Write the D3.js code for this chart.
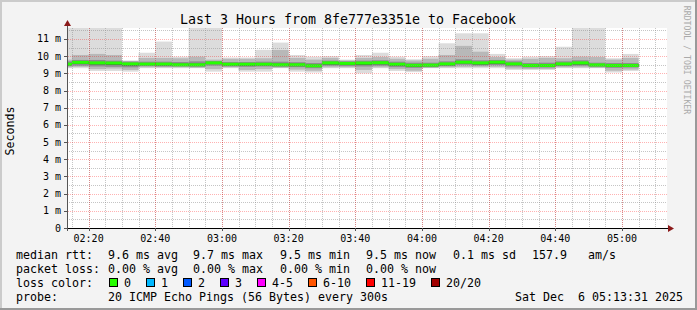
<!DOCTYPE html>
<html>
<head>
<meta charset="utf-8">
<script src="https://cdn.jsdelivr.net/npm/d3@7"></script>
<style>
body { margin: 0; background: #f3f3f3; }
svg { display: block; }
svg text { font-family: 'DejaVu Sans Mono', monospace; white-space: pre; }
</style>
</head>
<body>
<svg width="697" height="310"></svg>
<script>
// one bar per 5 minute step (start time)
const TIMES = ['02:10', '02:15', '02:20', '02:25', '02:30', '02:35', '02:40', '02:45', '02:50', '02:55',
    '03:00', '03:05', '03:10', '03:15', '03:20', '03:25', '03:30', '03:35', '03:40', '03:45',
    '03:50', '03:55', '04:00', '04:05', '04:10', '04:15', '04:20', '04:25', '04:30', '04:35',
    '04:40', '04:45', '04:50', '04:55', '05:00'];

// rtt in ms
const MEDIAN = [9.54, 9.64, 9.61, 9.60, 9.55, 9.54, 9.54, 9.50, 9.50, 9.61, 9.53, 9.53, 9.53, 9.50, 9.50, 9.44, 9.61, 9.58,
    9.60, 9.62, 9.53, 9.47, 9.48, 9.55, 9.65, 9.61, 9.65, 9.55, 9.46, 9.46, 9.55, 9.61, 9.49, 9.46, 9.46];
const MAX = [11.9, 11.9, 11.9, 11.9, 9.75, 10.2, 10.85, 9.97, 11.9, 11.9, 9.92, 9.92, 10.37, 10.79, 10.07, 9.97, 10.0, 9.8,
    10.07, 10.2, 9.97, 9.82, 10.0, 10.75, 11.33, 11.33, 10.13, 9.88, 9.97, 10.0, 10.55, 11.9, 11.9, 9.88, 10.13];
const MIN = [9.3, 9.3, 9.14, 9.14, 9.1, 9.3, 9.3, 9.3, 9.3, 9.1, 9.3, 9.1, 9.1, 9.3, 9.1, 9.05, 9.3, 9.3,
    9.0, 9.3, 9.14, 9.07, 9.3, 9.3, 9.3, 9.3, 9.3, 9.2, 9.2, 9.2, 9.3, 9.3, 9.3, 9.05, 9.14];
const P90 = [9.8, 10.07, 10.13, 10.07, 9.72, 9.9, 9.9, 9.88, 9.97, 9.8, 9.85, 9.85, 9.88, 10.36, 9.9, 9.8, 9.9, 9.75,
    9.9, 9.95, 9.85, 9.75, 9.85, 10.07, 10.6, 10.26, 9.95, 9.8, 9.85, 9.9, 9.88, 9.97, 9.95, 9.8, 9.9];
const P75 = [9.7, 9.78, 9.78, 9.74, 9.68, 9.68, 9.68, 9.66, 9.7, 9.72, 9.66, 9.66, 9.68, 9.68, 9.65, 9.6, 9.74, 9.7,
    9.74, 9.76, 9.68, 9.62, 9.62, 9.7, 9.82, 9.76, 9.78, 9.7, 9.6, 9.62, 9.7, 9.76, 9.62, 9.6, 9.6];
const P60 = [9.6, 9.7, 9.66, 9.66, 9.6, 9.6, 9.6, 9.56, 9.56, 9.66, 9.58, 9.58, 9.58, 9.56, 9.56, 9.5, 9.66, 9.63,
    9.65, 9.67, 9.58, 9.52, 9.54, 9.6, 9.72, 9.66, 9.7, 9.6, 9.52, 9.52, 9.6, 9.66, 9.54, 9.52, 9.52];
const P40 = [9.47, 9.55, 9.52, 9.5, 9.45, 9.48, 9.46, 9.44, 9.44, 9.55, 9.46, 9.44, 9.46, 9.44, 9.42, 9.37, 9.52, 9.5,
    9.5, 9.53, 9.44, 9.39, 9.42, 9.47, 9.58, 9.52, 9.56, 9.48, 9.4, 9.4, 9.47, 9.52, 9.44, 9.38, 9.4];
const P25 = [9.42, 9.45, 9.4, 9.38, 9.35, 9.42, 9.4, 9.4, 9.38, 9.45, 9.4, 9.38, 9.4, 9.38, 9.36, 9.3, 9.45, 9.42,
    9.4, 9.45, 9.36, 9.32, 9.36, 9.42, 9.5, 9.46, 9.48, 9.4, 9.34, 9.34, 9.42, 9.45, 9.38, 9.32, 9.34];
const P10 = [9.35, 9.38, 9.25, 9.28, 9.2, 9.35, 9.35, 9.35, 9.32, 9.25, 9.35, 9.2, 9.25, 9.32, 9.22, 9.15, 9.35, 9.35,
    9.2, 9.35, 9.25, 9.15, 9.32, 9.35, 9.38, 9.38, 9.38, 9.28, 9.25, 9.25, 9.35, 9.35, 9.32, 9.15, 9.22];

const X_TICK_LABELS = ['02:20', '02:40', '03:00', '03:20', '03:40', '04:00', '04:20', '04:40', '05:00'];
const Y_TICKS = [0, 1, 2, 3, 4, 5, 6, 7, 8, 9, 10, 11];
const Y_TICK_LABELS = ['0', '1 m', '2 m', '3 m', '4 m', '5 m', '6 m', '7 m', '8 m', '9 m', '10 m', '11 m'];
const LOSS_LABELS = ['0', '1', '2', '3', '4-5', '6-10', '11-19', '20/20'];
const LOSS_COLORS = ['#26ff00', '#00b8ff', '#0059ff', '#5e00ff', '#ff00ff', '#ff5500', '#ff0000', '#a10000'];

const PLOT = {left: 67, right: 667, top: 28, bottom: 228};

const parseHM = d3.timeParse('%H:%M');
const parseHMS = d3.timeParse('%H:%M:%S');

const x = d3.scaleTime()
    .domain([parseHMS('02:13:31'), parseHMS('05:13:31')])
    .range([PLOT.left, PLOT.right]);
const y = d3.scaleLinear().domain([0, 11.64]).range([PLOT.bottom, PLOT.top]);

const svg = d3.select('svg');

// background + border
svg.append('rect').attr('width', 697).attr('height', 310).attr('fill', '#f3f3f3');
svg.append('rect').attr('width', 697).attr('height', 2).attr('fill', '#cbcbcb');
svg.append('rect').attr('width', 2).attr('height', 310).attr('fill', '#cbcbcb');
svg.append('rect').attr('x', 695).attr('width', 2).attr('height', 310).attr('fill', '#999');
svg.append('rect').attr('y', 308).attr('width', 697).attr('height', 2).attr('fill', '#999');

svg.append('rect')
    .attr('x', PLOT.left).attr('y', PLOT.top)
    .attr('width', PLOT.right - PLOT.left).attr('height', PLOT.bottom - PLOT.top)
    .attr('fill', '#fff');

svg.append('clipPath').attr('id', 'plotclip')
    .append('rect')
    .attr('x', PLOT.left).attr('y', PLOT.top)
    .attr('width', PLOT.right - PLOT.left).attr('height', PLOT.bottom - PLOT.top);

const data = TIMES.map((t, i) => ({
    t: parseHM(t),
    med: MEDIAN[i], min: MIN[i], max: MAX[i],
    p10: P10[i], p25: P25[i], p40: P40[i], p60: P60[i], p75: P75[i], p90: P90[i]
}));

const chart = svg.append('g').attr('clip-path', 'url(#plotclip)');
const bx0 = d => Math.max(PLOT.left, x(d.t));
const bx1 = d => x(d3.timeMinute.offset(d.t, 5));

// smoke layers, outer to inner
const layers = [
    {lo: 'min', hi: 'max', color: '#dcdcdc'},
    {lo: 'p10', hi: 'p90', color: '#b8b8b8'},
    {lo: 'p25', hi: 'p75', color: '#8c8c8c'},
    {lo: 'p40', hi: 'p60', color: '#444444'},
];
layers.forEach(l => {
    chart.append('g').selectAll('rect')
        .data(data)
        .enter()
        .append('rect')
        .attr('x', bx0)
        .attr('width', d => bx1(d) - bx0(d))
        .attr('y', d => y(d[l.hi]))
        .attr('height', d => y(d[l.lo]) - y(d[l.hi]))
        .attr('fill', l.color);
});

chart.append('g').selectAll('rect')
    .data(data)
    .enter()
    .append('rect')
    .attr('x', bx0)
    .attr('width', d => bx1(d) - bx0(d))
    .attr('y', d => y(d.med) - 1.5)
    .attr('height', 3)
    .attr('fill', LOSS_COLORS[0]);

// grid (drawn on top, like rrdtool)
const grid = svg.append('g').attr('shape-rendering', 'crispEdges');
const minorT = x.ticks(d3.timeMinute.every(5));
const majorT = X_TICK_LABELS.map(parseHM);
const minorY = d3.range(0.5, 11.64, 1);

grid.selectAll('.vmin').data(minorT).enter().append('line')
    .attr('x1', d => Math.round(x(d)) + 0.5).attr('x2', d => Math.round(x(d)) + 0.5)
    .attr('y1', PLOT.top).attr('y2', PLOT.bottom)
    .attr('stroke', 'rgba(140,140,140,0.5)').attr('stroke-dasharray', '1,1');
grid.selectAll('.hmin').data(minorY).enter().append('line')
    .attr('x1', PLOT.left).attr('x2', PLOT.right)
    .attr('y1', d => Math.round(y(d)) + 0.5).attr('y2', d => Math.round(y(d)) + 0.5)
    .attr('stroke', 'rgba(140,140,140,0.5)').attr('stroke-dasharray', '1,1');
grid.selectAll('.vmaj').data(majorT).enter().append('line')
    .attr('x1', d => Math.round(x(d)) + 0.5).attr('x2', d => Math.round(x(d)) + 0.5)
    .attr('y1', PLOT.top).attr('y2', PLOT.bottom + 3)
    .attr('stroke', 'rgba(255,0,0,0.3)').attr('stroke-dasharray', '1,1');
grid.selectAll('.hmaj').data(Y_TICKS.slice(1)).enter().append('line')
    .attr('x1', PLOT.left - 3).attr('x2', PLOT.right)
    .attr('y1', d => Math.round(y(d)) + 0.5).attr('y2', d => Math.round(y(d)) + 0.5)
    .attr('stroke', 'rgba(255,0,0,0.3)').attr('stroke-dasharray', '1,1');

// axes
const axes = svg.append('g').attr('shape-rendering', 'crispEdges');
axes.append('line')
    .attr('x1', PLOT.left - 3).attr('x2', 669)
    .attr('y1', PLOT.bottom + 0.5).attr('y2', PLOT.bottom + 0.5)
    .attr('stroke', '#000');
axes.append('line')
    .attr('x1', PLOT.left + 0.5).attr('x2', PLOT.left + 0.5)
    .attr('y1', PLOT.bottom + 3).attr('y2', 24)
    .attr('stroke', '#555');
axes.selectAll('.xt').data(majorT).enter().append('line')
    .attr('x1', d => Math.round(x(d)) + 0.5).attr('x2', d => Math.round(x(d)) + 0.5)
    .attr('y1', PLOT.bottom).attr('y2', PLOT.bottom + 3)
    .attr('stroke', '#555');
axes.selectAll('.yt').data(Y_TICKS).enter().append('line')
    .attr('x1', PLOT.left - 3).attr('x2', PLOT.left)
    .attr('y1', d => Math.round(y(d)) + 0.5).attr('y2', d => Math.round(y(d)) + 0.5)
    .attr('stroke', '#555');

svg.append('path').attr('d', 'M668,225L674,228.5L668,232Z').attr('fill', '#8b1a1a');
svg.append('path').attr('d', 'M64,26L67.5,20L71,26Z').attr('fill', '#8b1a1a');

svg.selectAll('.xl').data(X_TICK_LABELS).enter().append('text')
    .attr('x', d => x(parseHM(d)))
    .attr('y', 241.5)
    .attr('text-anchor', 'middle')
    .attr('font-size', '10px')
    .text(d => d);

svg.selectAll('.yl').data(Y_TICKS).enter().append('text')
    .attr('x', 61)
    .attr('y', d => y(d) + 3.5)
    .attr('text-anchor', 'end')
    .attr('font-size', '10px')
    .text((d, i) => Y_TICK_LABELS[i]);

// titles
svg.append('text')
    .attr('x', 348).attr('y', 24)
    .attr('text-anchor', 'middle')
    .attr('font-size', '13.3px')
    .text('Last 3 Hours from 8fe777e3351e to Facebook');

svg.append('text')
    .attr('transform', 'translate(14,131) rotate(-90)')
    .attr('text-anchor', 'middle')
    .attr('font-size', '11.6px')
    .text('Seconds');

svg.append('text')
    .attr('transform', 'translate(684,60) rotate(90)')
    .attr('text-anchor', 'middle')
    .attr('font-size', '8.2px')
    .attr('fill', '#aaa')
    .text('RRDTOOL / TOBI OETIKER');

// legend
const LEG_FS = '11.63px';
const legend = svg.append('g').attr('font-size', LEG_FS);
const addText = (tx, ty, s, anchor) => legend.append('text')
    .attr('x', tx).attr('y', ty).attr('text-anchor', anchor || 'start').text(s);

addText(16, 258.5, 'median rtt:');
[[108, '9.6 ms avg'], [193, '9.7 ms max'], [280, '9.5 ms min'], [366, '9.5 ms now'],
    [453, '0.1 ms sd'], [532, '157.9'], [588, 'am/s']].forEach(d => addText(d[0], 258.5, d[1]));

addText(16, 272.5, 'packet loss:');
[[108, '0.00 % avg'], [193, '0.00 % max'], [280, '0.00 % min'], [366, '0.00 % now']]
    .forEach(d => addText(d[0], 272.5, d[1]));

addText(16, 286.5, 'loss color:');
let lx = 109;
LOSS_LABELS.forEach((lab, i) => {
    legend.append('rect')
        .attr('x', lx + 0.5).attr('y', 278.5)
        .attr('width', 8).attr('height', 8)
        .attr('fill', LOSS_COLORS[i])
        .attr('stroke', '#000');
    addText(lx + 15, 286.5, lab);
    lx = lx + 15 + lab.length * 7 + 15;
});

addText(16, 300.5, 'probe:');
addText(108, 300.5, '20 ICMP Echo Pings (56 Bytes) every 300s');
addText(683, 300.5, 'Sat Dec  6 05:13:31 2025', 'end');
</script>
</body>
</html>
